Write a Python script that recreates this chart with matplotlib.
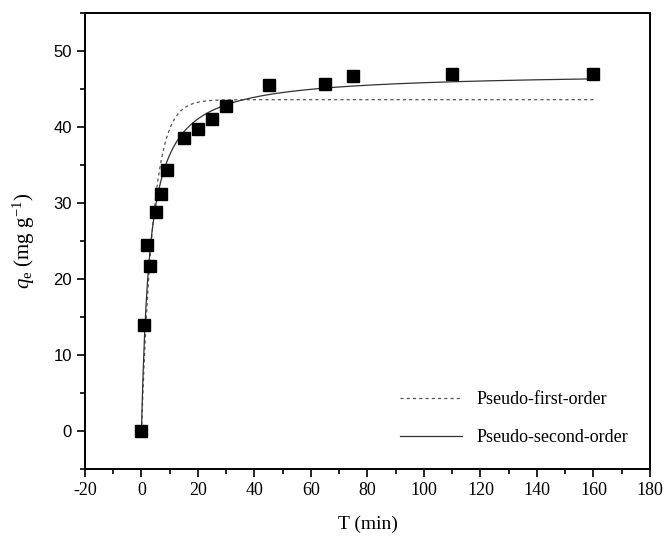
import numpy as np
import matplotlib
matplotlib.use("Agg")
import matplotlib.pyplot as plt
from matplotlib.ticker import MultipleLocator

plt.rcParams["mathtext.fontset"] = "custom"
plt.rcParams["mathtext.rm"] = "Liberation Serif"
plt.rcParams["mathtext.it"] = "Liberation Serif:italic"
plt.rcParams["axes.unicode_minus"] = False

# Experimental data
t_data = [0, 1, 2, 3, 5, 7, 9, 15, 20, 25, 30, 45, 65, 75, 110, 160]
q_data = [0.0, 13.9, 24.5, 21.7, 28.8, 31.2, 34.3, 38.6, 39.7, 41.0, 42.8, 45.5, 45.6, 46.7, 47.0, 47.0]

# Fitted model parameters
pfo_qe = 43.6
pfo_k1 = 0.243
pso_qe = 47.2
pso_k2 = 0.0071

serif = ["Liberation Serif", "DejaVu Serif"]
sans = ["Liberation Sans", "DejaVu Sans"]

fig = plt.figure(figsize=(6.65, 5.36), dpi=100)
ax = fig.add_axes([0.1278, 0.125, 0.8496, 0.8507])

t = np.linspace(0, max(t_data), 1000)
q_pfo = pfo_qe * (1 - np.exp(-pfo_k1 * t))
q_pso = pso_k2 * pso_qe**2 * t / (1 + pso_k2 * pso_qe * t)

ax.plot(t, q_pfo, linestyle=(0, (2.5, 2.5)), color="#555555", lw=0.9, label="Pseudo-first-order")
ax.plot(t, q_pso, linestyle="-", color="#333333", lw=0.9, label="Pseudo-second-order")
ax.plot(t_data, q_data, linestyle="none", marker="s", ms=8, color="black")

ax.set_xlim(-20, 180)
ax.set_ylim(-5, 55)
ax.xaxis.set_major_locator(MultipleLocator(20))
ax.xaxis.set_minor_locator(MultipleLocator(10))
ax.yaxis.set_major_locator(MultipleLocator(10))
ax.yaxis.set_minor_locator(MultipleLocator(5))
ax.tick_params(which="major", direction="out", length=6, width=1.2)
ax.tick_params(which="minor", direction="out", length=3.5, width=1.2)
for s in ax.spines.values():
    s.set_linewidth(1.4)

for lab in ax.get_xticklabels():
    lab.set_fontfamily(serif)
    lab.set_fontsize(13)
for lab in ax.get_yticklabels():
    lab.set_fontfamily(sans)
    lab.set_fontsize(12)

ax.set_xlabel("T (min)", fontsize=14, family=serif, labelpad=12)
ax.set_ylabel(r"$q_{\mathrm{e}}$ (mg g$^{-1}$)", fontsize=15, family=serif, labelpad=12)

leg = ax.legend(loc="lower right", bbox_to_anchor=(0.99, 0.015), frameon=False,
                prop={"family": serif, "size": 13}, handlelength=3.4,
                labelspacing=1.15, handletextpad=0.8)

fig.savefig("out.png", dpi=100)
